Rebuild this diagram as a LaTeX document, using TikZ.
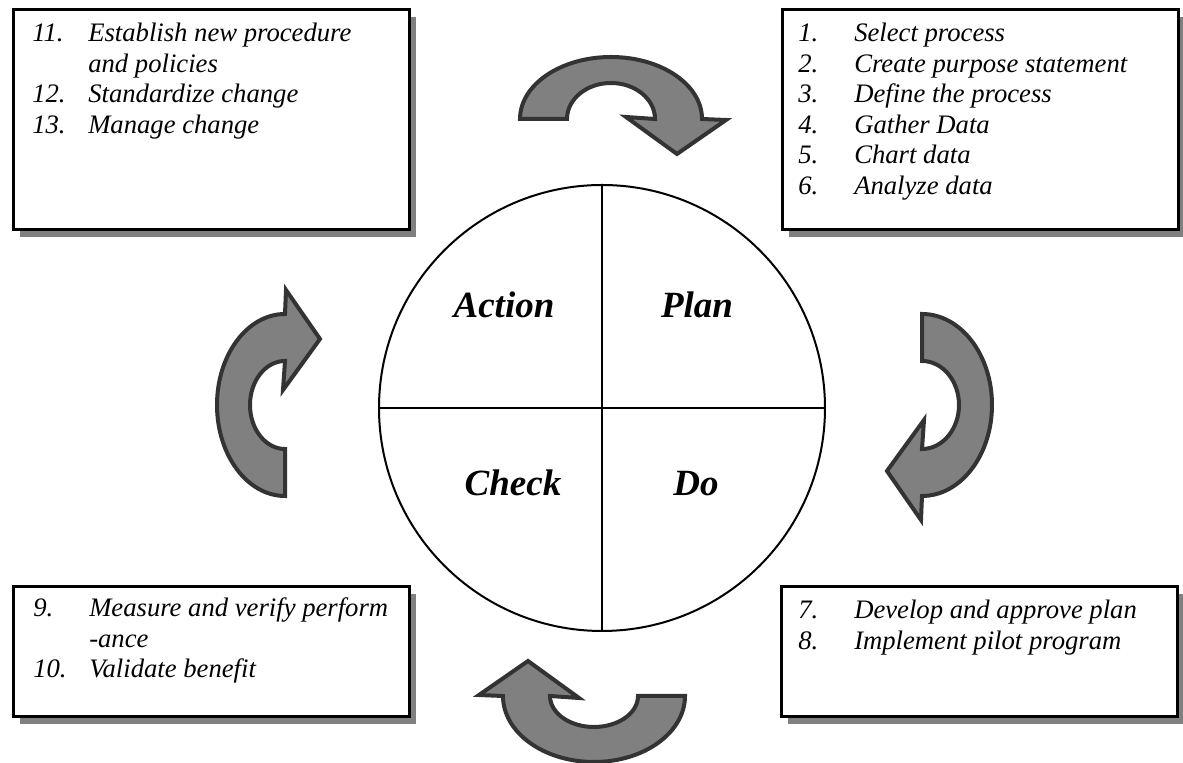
\documentclass[tikz,border=0pt]{standalone}
\usepackage{fontspec}
\setmainfont{Liberation Serif}
\usetikzlibrary{shadows,calc}
\definecolor{arrowfill}{HTML}{808080}
\definecolor{arrowline}{HTML}{333333}
\definecolor{shadowgray}{HTML}{808080}

\begin{document}
\begin{tikzpicture}[x=0.75pt,y=0.75pt,
    listbox/.style={draw,line width=2.25pt,fill=white,inner sep=0pt,anchor=north west,
      minimum width=297pt,
      drop shadow={shadow xshift=5pt,shadow yshift=-5pt,fill=shadowgray,opacity=1}},
    listtext/.style={anchor=base west,inner sep=0pt,
      font=\fontsize{20pt}{22.85pt}\selectfont\itshape},
    phase/.style={anchor=base,font=\fontsize{27.75pt}{30pt}\selectfont\bfseries\itshape},
    turn/.style={draw=arrowline,fill=arrowfill,line width=3pt}]
    \useasboundingbox (0,0) rectangle (1183,763);
    \providecommand{\itemlist}[1]{\begin{tabular}[t]{@{}p{42pt}@{}l@{}}#1\end{tabular}}
    \providecommand{\turnarrow}[4]{%
      \begin{scope}[shift={#1},rotate=#2]
        \draw[turn] (-91,0) arc[start angle=180,end angle=0,x radius=91,y radius=#3]
          -- (115,-1) -- (66,-35) -- (15,2) -- (44,0)
          arc[start angle=0,end angle=180,x radius=44,y radius=#4] -- cycle;
      \end{scope}}
    % the four boxes
    \node[listbox,minimum height=165pt] (actbox) at (11.5,754.5) {};
    \node[listbox,minimum height=165pt] (planbox) at (780.5,754.5) {};
    \node[listbox,minimum height=97.5pt] (checkbox) at (11.5,177.5) {};
    \node[listbox,minimum height=97.5pt] (dobox) at (779.5,177.5) {};
    \node[listtext] (actlist) at ($(actbox.north west)+(20.5,-33.5)$)
      {\itemlist{11. & Establish new procedure\\ & and policies\\
       12. & Standardize change\\ 13. & Manage change}};
    \node[listtext] (planlist) at ($(planbox.north west)+(17.5,-33.5)$)
      {\itemlist{1. & Select process\\ 2. & Create purpose statement\\
       3. & Define the process\\ 4. & Gather Data\\
       5. & Chart data\\ 6. & Analyze data}};
    \node[listtext] (checklist) at ($(checkbox.north west)+(21.5,-31.5)$)
      {\itemlist{9. & Measure and verify perform\\ & -ance\\
       10. & Validate benefit}};
    \node[listtext] (dolist) at ($(dobox.north west)+(18.5,-33.5)$)
      {\itemlist{7. & Develop and approve plan\\ 8. & Implement pilot program}};
    % the cycle
    \node[circle,draw,line width=1.5pt,minimum size=334.5pt,inner sep=0pt] (pdca) at (602,355) {};
    \draw[line width=1.5pt] (pdca.north) -- (pdca.south);
    \draw[line width=1.5pt] (pdca.west) -- (pdca.east);
    \node[phase] (action) at (504,445) {Action};
    \node[phase] (plan) at (697,445) {Plan};
    \node[phase] (check) at (513,267) {Check};
    \node[phase] (do) at (696,267) {Do};
    % turning arrows
    \turnarrow{(611,644)}{0}{62}{36}
    \turnarrow{(922,358)}{-90}{70}{37}
    \turnarrow{(594,67)}{180}{66}{31}
    \turnarrow{(285,358)}{90}{68}{35}
\end{tikzpicture}
\end{document}
